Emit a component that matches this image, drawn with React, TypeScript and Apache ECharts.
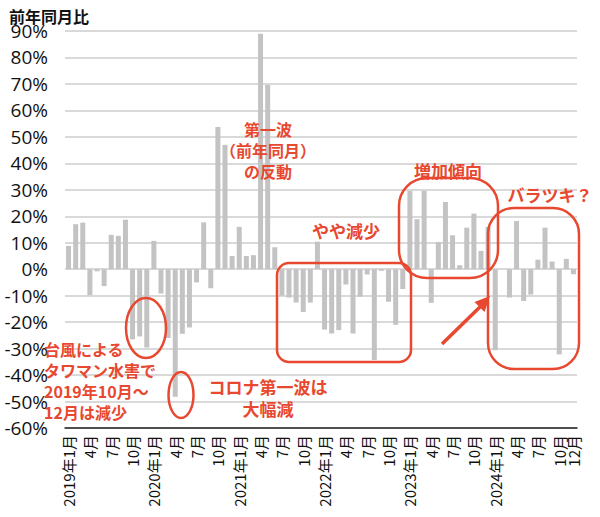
import React, { useEffect, useRef } from 'react';
import * as echarts from 'echarts';

const years = [2019, 2020, 2021, 2022, 2023, 2024];
const months = [1, 2, 3, 4, 5, 6, 7, 8, 9, 10, 11, 12];
const categories: string[] = years.flatMap((y) => months.map((m) => `${y}年${m}月`));

const values2019 = [8.8, 17, 17.6, -9.8, -0.8, -6.4, 13, 12.6, 18.7, -26.5, -25.4, -29.6];
const values2020 = [10.7, -9.2, -26, -48.2, -24.4, -22, -5, 17.7, -7.2, 53.7, 47, 5];
const values2021 = [16, 5, 5.3, 89, 69.6, 8.3, -10, -10.7, -12.6, -16.2, -12.6, 10.4];
const values2022 = [-22.8, -24.3, -23, -5.8, -24.3, -10.4, -2, -34.3, -0.6, -12.3, -21, -7.5];
const values2023 = [29.6, 18.9, 29.6, -12.7, 10.3, 25.4, 12.8, 1.5, 15.7, 21, 6.9, 16];
const values2024 = [-30.6, 0, -10.7, 18.2, -12, -9.6, 3.6, 15.7, 2.9, -32.2, 3.9, -1.9];
const values = [...values2019, ...values2020, ...values2021, ...values2022, ...values2023, ...values2024];

const yTicks = { min: -60, max: 90, interval: 10 };
const titleText = '前年同月比';

const RED = '#e8482f';
const FONT = '"Noto Sans CJK JP", "Noto Sans", sans-serif';
const NUMFONT = '"Open Sans", "Noto Sans CJK JP", sans-serif';

export default function App() {
  const ref = useRef<HTMLDivElement>(null);
  useEffect(() => {
    if (!ref.current) return;
    const chart = echarts.init(ref.current, undefined, { renderer: 'svg' });
    const redText = (text: string, x: number, y: number, size: number, align: string = 'center') => ({
      type: 'text',
      x,
      y,
      z: 100,
      style: {
        text,
        fill: RED,
        font: `bold ${size}px ${FONT}`,
        textAlign: align,
        textVerticalAlign: 'top',
        lineHeight: size + 5,
      },
    });
    const stroke = { stroke: RED, lineWidth: 2.5, fill: 'none' };
    const last = categories.length - 1;
    const labelBase = {
      rotate: 90,
      margin: 7,
      fontSize: 15,
      color: '#111',
      fontFamily: FONT,
      hideOverlap: false,
      formatter: (v: string) => (v.endsWith('年1月') ? v : v.replace(/^\d+年/, '')),
    };
    chart.setOption({
      animation: false,
      backgroundColor: '#ffffff',
      textStyle: { fontFamily: FONT },
      title: {
        text: titleText,
        left: 4,
        top: 3,
        textStyle: { fontSize: 16, fontWeight: 'bold', color: '#111', fontFamily: FONT },
      },
      grid: { left: 65, right: 23, top: 31, bottom: 89 },
      xAxis: [
        {
          type: 'category',
          data: categories,
          position: 'bottom',
          axisLine: { onZero: false, lineStyle: { color: '#222', width: 1.5 } },
          axisTick: { show: false },
          axisLabel: { ...labelBase, interval: (i: number) => i % 3 === 0 },
        },
        {
          type: 'category',
          data: categories,
          position: 'bottom',
          offset: 0,
          axisLine: { show: false, onZero: false },
          axisTick: { show: false },
          splitLine: { show: false },
          axisLabel: { ...labelBase, interval: (i: number) => i === last },
        },
      ],
      yAxis: {
        type: 'value',
        min: yTicks.min,
        max: yTicks.max,
        interval: yTicks.interval,
        axisLine: { show: false },
        axisTick: { show: false },
        splitLine: { lineStyle: { color: '#cccccc', width: 1.5 } },
        axisLabel: {
          formatter: (v: number) => `${v}%`,
          fontSize: 19,
          fontWeight: 500,
          color: '#111',
          margin: 17,
          fontFamily: NUMFONT,
        },
      },
      series: [
        {
          type: 'bar',
          data: values,
          barWidth: 5,
          itemStyle: { color: '#c3c3c3' },
        },
      ],
      graphic: [
        { type: 'ellipse', shape: { cx: 146, cy: 328, rx: 20, ry: 30 }, style: stroke, z: 100 },
        { type: 'ellipse', shape: { cx: 181, cy: 395, rx: 12.5, ry: 23 }, style: stroke, z: 100 },
        { type: 'rect', shape: { x: 277, y: 263, width: 134, height: 99, r: 12 }, style: stroke, z: 100 },
        { type: 'rect', shape: { x: 399, y: 178, width: 99, height: 100, r: 28 }, style: stroke, z: 100 },
        { type: 'rect', shape: { x: 488, y: 208, width: 91, height: 161, r: 26 }, style: stroke, z: 100 },
        { type: 'line', shape: { x1: 442, y1: 344, x2: 482, y2: 305 }, style: { stroke: RED, lineWidth: 3.5 }, z: 100 },
        {
          type: 'polygon',
          shape: { points: [[490, 296], [484.5, 312], [474.5, 302]] },
          style: { fill: RED },
          z: 100,
        },
        redText('第一波\n（前年同月）\nの反動', 268, 118, 16),
        redText('やや減少', 346, 219, 17),
        redText('増加傾向', 448, 159, 17),
        redText('バラツキ？', 550, 183, 17),
        redText('台風による\nタワマン水害で\n2019年10月～\n12月は減少', 44, 338, 16, 'left'),
        redText('コロナ第一波は\n大幅減', 268, 375, 17),
      ],
    });
    return () => chart.dispose();
  }, []);
  return (
    <div
      ref={ref}
      style={{ position: 'fixed', left: 0, top: 0, width: 600, height: 517, background: '#fff' }}
    />
  );
}
